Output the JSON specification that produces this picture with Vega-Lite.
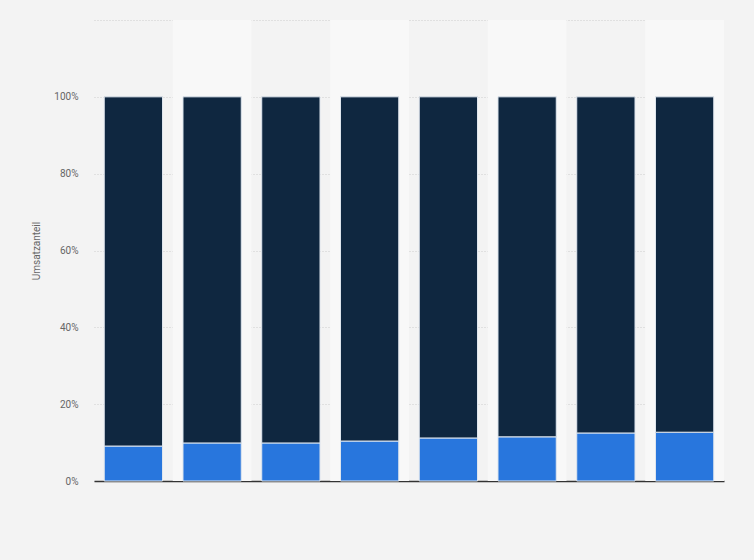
{
  "$schema": "https://vega.github.io/schema/vega-lite/v6.json",
  "width": 630,
  "height": 461,
  "autosize": {"type": "none"},
  "padding": {"left": 94, "top": 20, "right": 30, "bottom": 79},
  "background": "#f3f3f3",
  "datasets": {
    "anteile": [
      {"spalte": "1", "segment": "Anteil A", "wert": 9.1},
      {"spalte": "1", "segment": "Anteil B", "wert": 90.9},
      {"spalte": "2", "segment": "Anteil A", "wert": 9.9},
      {"spalte": "2", "segment": "Anteil B", "wert": 90.1},
      {"spalte": "3", "segment": "Anteil A", "wert": 9.9},
      {"spalte": "3", "segment": "Anteil B", "wert": 90.1},
      {"spalte": "4", "segment": "Anteil A", "wert": 10.4},
      {"spalte": "4", "segment": "Anteil B", "wert": 89.6},
      {"spalte": "5", "segment": "Anteil A", "wert": 11.2},
      {"spalte": "5", "segment": "Anteil B", "wert": 88.8},
      {"spalte": "6", "segment": "Anteil A", "wert": 11.5},
      {"spalte": "6", "segment": "Anteil B", "wert": 88.5},
      {"spalte": "7", "segment": "Anteil A", "wert": 12.5},
      {"spalte": "7", "segment": "Anteil B", "wert": 87.5},
      {"spalte": "8", "segment": "Anteil A", "wert": 12.7},
      {"spalte": "8", "segment": "Anteil B", "wert": 87.3}
    ],
    "streifen": [
      {"spalte": "2", "oben": 120},
      {"spalte": "4", "oben": 120},
      {"spalte": "6", "oben": 120},
      {"spalte": "8", "oben": 120}
    ]
  },
  "layer": [
    {
      "data": {"name": "streifen"},
      "mark": {"type": "bar", "width": {"band": 1}, "color": "#f8f8f8"},
      "encoding": {
        "x": {"field": "spalte", "type": "nominal"},
        "y": {"field": "oben", "type": "quantitative"}
      }
    },
    {
      "data": {"name": "anteile"},
      "mark": {"type": "bar", "width": {"band": 0.74}, "stroke": "#dfe6ee", "strokeWidth": 1},
      "encoding": {
        "x": {
          "field": "spalte",
          "type": "nominal",
          "sort": null,
          "title": null,
          "scale": {"paddingInner": 0, "paddingOuter": 0, "domain": ["1", "2", "3", "4", "5", "6", "7", "8"]},
          "axis": {"labels": false, "ticks": false, "domainColor": "#333333", "domainWidth": 1.5, "grid": false}
        },
        "y": {
          "field": "wert",
          "type": "quantitative",
          "stack": "zero",
          "title": "Umsatzanteil",
          "scale": {"domain": [0, 120], "nice": false},
          "axis": {
            "values": [0, 20, 40, 60, 80, 100, 120],
            "labelExpr": "datum.value > 100 ? '' : datum.value + '%'",
            "domain": false,
            "ticks": false,
            "labelPadding": 16,
            "labelColor": "#666666",
            "labelFont": "Roboto",
            "labelFontSize": 10,
            "titleFont": "Roboto",
            "titleFontSize": 10,
            "titleFontWeight": "normal",
            "titleColor": "#666666",
            "titlePadding": 12,
            "gridColor": "#cccccc",
            "gridDash": [1, 2]
          }
        },
        "color": {
          "field": "segment",
          "type": "nominal",
          "scale": {"domain": ["Anteil A", "Anteil B"], "range": ["#2876dd", "#0f2740"]},
          "legend": null
        },
        "order": {"field": "segment", "sort": "ascending"}
      }
    }
  ],
  "config": {"view": {"stroke": null}}
}
